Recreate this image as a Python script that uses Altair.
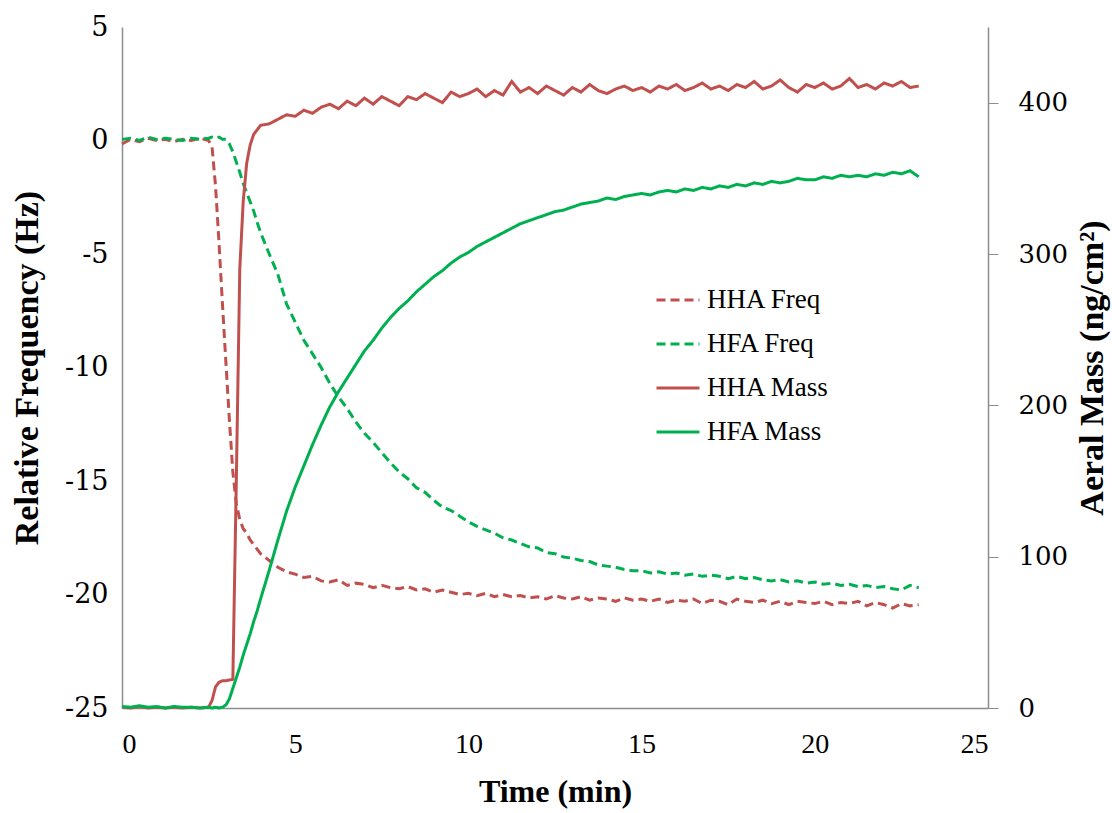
import altair as alt
import pandas as pd

# Sampling times (min): 0.25 min steps, 0.1 min steps through the adsorption onset
minutes = ([round(0.25 * i, 2) for i in range(11)]
           + [round(2.6 + 0.1 * i, 1) for i in range(15)]
           + [round(4.25 + 0.25 * i, 2) for i in range(76)])

# Relative frequency (Hz)
hha_freq = [
    -0.15, 0.05, -0.05, 0.1, 0.0, 0.05, -0.05, 0.05, 0.0, 0.1, 0.0,
    -0.3, -2.0, -4.5, -7.2, -9.8, -12.3, -14.6, -16.0, -16.7, -17.1,
    -17.3, -17.6, -17.8, -18.0, -18.2,
    -18.5, -18.8, -19.0,
    -19.1, -19.25, -19.2, -19.4,
    -19.45, -19.35, -19.6, -19.5,
    -19.55, -19.7, -19.6, -19.7,
    -19.75, -19.65, -19.8, -19.75,
    -19.9, -19.8, -19.9, -20.0,
    -19.95, -20.05, -19.95, -20.1,
    -20.0, -20.1, -20.05, -20.15,
    -20.1, -20.2, -20.05, -20.15,
    -20.2, -20.1, -20.25, -20.15,
    -20.2, -20.3, -20.15, -20.25,
    -20.2, -20.3, -20.2, -20.35,
    -20.25, -20.3, -20.2, -20.4,
    -20.25, -20.3, -20.45, -20.2,
    -20.3, -20.35, -20.25, -20.4,
    -20.3, -20.45, -20.3, -20.35,
    -20.4, -20.3, -20.45, -20.35,
    -20.4, -20.3, -20.5, -20.35,
    -20.45, -20.6, -20.4, -20.5,
    -20.45,
]

hfa_freq = [
    0.05, 0.1, 0.0, 0.15, 0.05, 0.1, 0.05, 0.0, 0.1, 0.05, 0.1,
    0.15, 0.1, 0.15, 0.05, 0.05, -0.15, -0.5, -0.95, -1.4, -1.9,
    -2.3, -2.7, -3.1, -3.6, -4.05,
    -5.0, -5.9, -7.2,
    -8.0, -8.8, -9.4, -10.0,
    -10.7, -11.3, -11.8, -12.4,
    -12.9, -13.3, -13.75, -14.2,
    -14.6, -14.9, -15.3, -15.5,
    -15.85, -16.15, -16.3, -16.55,
    -16.8, -17.0, -17.15, -17.3,
    -17.5, -17.6, -17.75, -17.9,
    -17.95, -18.15, -18.2, -18.35,
    -18.4, -18.5, -18.55, -18.7,
    -18.75, -18.8, -18.9, -18.95,
    -18.95, -19.05, -19.0, -19.1,
    -19.05, -19.15, -19.1, -19.2,
    -19.15, -19.2, -19.3, -19.2,
    -19.3, -19.25, -19.35, -19.4,
    -19.35, -19.45, -19.4, -19.5,
    -19.45, -19.55, -19.5, -19.6,
    -19.55, -19.65, -19.6, -19.7,
    -19.65, -19.75, -19.8, -19.6,
    -19.7,
]

# Areal mass (ng/cm²)
hha_mass = [
    0.5, 0, 1, 0, 0.5, 0, 0.5, 0, 0.5, 0, 0.5,
    5, 14, 17, 18, 18, 18.5, 19, 150, 290, 335,
    360, 372, 379, 382, 385,
    386, 389, 392,
    391, 395, 393, 397,
    399, 396, 401, 398,
    403, 399, 404, 401,
    398, 404, 402, 406,
    403, 400, 407, 404,
    406, 409, 404, 408,
    405, 414, 407, 410,
    406, 411, 408, 405,
    410, 407, 412, 408,
    406, 409, 411, 408,
    410, 407, 411, 409,
    412, 408, 410, 413,
    409, 411, 408, 412,
    410, 414, 409, 411,
    415, 410, 407, 412,
    410, 413, 409, 411,
    416, 410, 412, 409,
    413, 411, 414, 410,
    411,
]

hfa_mass = [
    1, 0.5, 1.5, 0.5, 1, 0, 1, 0.5, 0.5, 0, 0.5,
    0, 0.5, 0, 0.5, 2, 6, 13, 20, 27, 35,
    42, 49, 57, 64, 72,
    91, 111, 130,
    146, 160, 174, 187,
    199, 209, 218, 227,
    236, 243, 251, 258,
    264, 269, 275, 280,
    285, 289, 294, 298,
    301, 305, 308, 311,
    314, 317, 320, 322,
    324, 326, 328, 329,
    331, 333, 334, 335,
    337, 336, 338, 339,
    340, 339, 341, 342,
    341, 343, 342, 344,
    343, 345, 344, 346,
    345, 347, 346, 348,
    347, 348, 350, 349,
    349, 351, 350, 352,
    351, 352, 351, 353,
    352, 354, 353, 355,
    351,
]

series_names = ["HHA Freq", "HFA Freq", "HHA Mass", "HFA Mass"]
series_colors = ["#C0504D", "#00B050", "#C0504D", "#00B050"]
series_dashes = [[9, 5], [9, 5], [1, 0], [1, 0]]

frames = []
for name, kind, values in [("HHA Freq", "Freq", hha_freq), ("HFA Freq", "Freq", hfa_freq),
                           ("HHA Mass", "Mass", hha_mass), ("HFA Mass", "Mass", hfa_mass)]:
    frames.append(pd.DataFrame({"minutes": minutes, "value": values,
                                "series": name, "kind": kind}))
data = pd.concat(frames, ignore_index=True)

serif = "Liberation Serif"
tick_font = "DejaVu Serif"

legend = alt.Legend(
    title=None, orient="none", legendX=533, legendY=250,
    symbolType="stroke", symbolSize=1849, symbolStrokeWidth=3,
    labelFont=serif, labelFontSize=27, labelColor="black",
    rowPadding=8, labelOffset=6,
)
color = alt.Color("series:N", scale=alt.Scale(domain=series_names, range=series_colors),
                  sort=series_names, legend=legend)
dash = alt.StrokeDash("series:N", scale=alt.Scale(domain=series_names, range=series_dashes),
                      sort=series_names, legend=legend)

x = alt.X("minutes:Q", scale=alt.Scale(domain=[0, 25], nice=False),
          axis=alt.Axis(title="Time (min)", values=[0, 5, 10, 15, 20, 25], ticks=False,
                        labelFont=serif, labelFontSize=28, labelPadding=22,
                        titleFont=serif, titleFontSize=32, titleFontWeight="bold",
                        titlePadding=18))

base = alt.Chart(data)

freq = base.transform_filter(alt.datum.kind == "Freq").mark_line(strokeWidth=3).encode(
    x=x,
    y=alt.Y("value:Q", scale=alt.Scale(domain=[-25, 5], nice=False),
            axis=alt.Axis(title="Relative Frequency (Hz)", orient="left",
                          values=[-25, -20, -15, -10, -5, 0, 5], ticks=False,
                          labelExpr="'' + datum.value",
                          labelFont=tick_font, labelFontSize=27, labelPadding=14,
                          titleFont=serif, titleFontSize=34, titleFontWeight="bold",
                          titlePadding=20)),
    color=color, strokeDash=dash, order="minutes:Q",
)

mass = base.transform_filter(alt.datum.kind == "Mass").mark_line(strokeWidth=3).encode(
    x=x,
    y=alt.Y("value:Q", scale=alt.Scale(domain=[0, 450], nice=False),
            axis=alt.Axis(title="Aeral Mass (ng/cm²)", orient="right",
                          values=[0, 100, 200, 300, 400], ticks=True, tickSize=10,
                          tickColor="#8c8c8c",
                          labelFont=tick_font, labelFontSize=26, labelPadding=20,
                          titleFont=serif, titleFontSize=34, titleFontWeight="bold",
                          titleAngle=270, titleBaseline="top", titlePadding=8)),
    color=color, strokeDash=dash, order="minutes:Q",
)

chart = alt.layer(freq, mass).resolve_scale(y="independent").properties(
    width=866, height=681,
    padding={"left": 122, "top": 27, "right": 124, "bottom": 105},
    autosize=alt.AutoSizeParams(type="none"),
).configure_view(stroke=None).configure_axis(
    grid=False, domainColor="#8c8c8c", domainWidth=1.5,
    labelColor="black", titleColor="black",
)

chart.save("out.html", embed_options={"renderer": "svg", "actions": False})
